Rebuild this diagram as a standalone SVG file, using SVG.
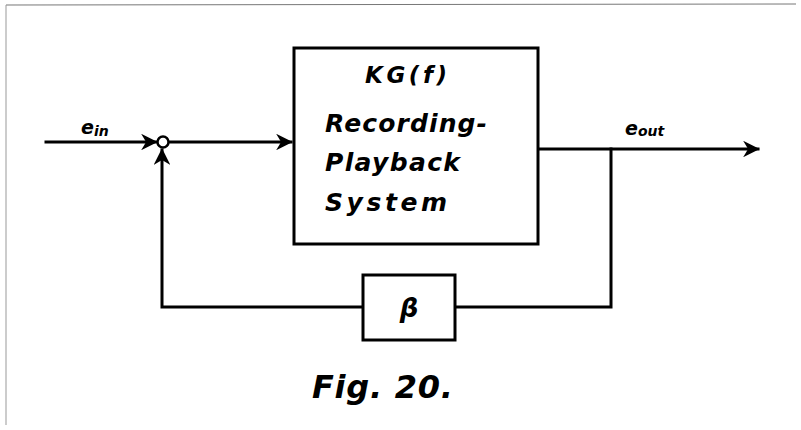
<svg xmlns="http://www.w3.org/2000/svg" width="801" height="430" viewBox="0 0 801 430">
<style>
.ln{stroke:#000;stroke-width:3;fill:none;stroke-linecap:square}
.bx{stroke:#000;stroke-width:3;fill:#fff}
.t{font-family:"DejaVu Sans","Liberation Sans",sans-serif;font-style:italic;font-weight:bold;fill:#000}
</style>
<defs>
<marker id="ah" viewBox="0 0 10 10" refX="9" refY="5" markerWidth="5.5" markerHeight="5.5" orient="auto" markerUnits="strokeWidth">
<path d="M0,0 L10,5 L0,10 L3,5 z" fill="#000"/>
</marker>
</defs>
<rect width="801" height="430" fill="#fff"/>
<g id="border">
<path d="M6,5 L796,4" stroke="#777" stroke-width="1" fill="none"/>
<path d="M6,5 L6,425" stroke="#999" stroke-width="1" fill="none"/>
</g>
<g id="connectors">
<path class="ln" d="M46,142 L156,142" marker-end="url(#ah)"/>
<path class="ln" d="M169,142 L291,142" marker-end="url(#ah)"/>
<path class="ln" d="M538,149 L758,149" marker-end="url(#ah)"/>
<path class="ln" d="M611,149 L611,307 L455,307"/>
<path class="ln" d="M363,307 L162,307 L162,150" marker-end="url(#ah)"/>
</g>
<g id="sum">
<circle cx="163" cy="142" r="5.5" fill="#fff" stroke="#000" stroke-width="2.5"/>
</g>
<g id="system">
<rect class="bx" x="294" y="48" width="244" height="196"/>
<text class="t" x="365" y="83" font-size="23" textLength="82" lengthAdjust="spacing">KG(f)</text>
<text class="t" x="325" y="132" font-size="25" textLength="162" lengthAdjust="spacing">Recording-</text>
<text class="t" x="325" y="171" font-size="25" textLength="135" lengthAdjust="spacing">Playback</text>
<text class="t" x="325" y="211" font-size="25" textLength="122" lengthAdjust="spacing">System</text>
</g>
<g id="beta">
<rect class="bx" x="363" y="275" width="92" height="65"/>
<text class="t" x="409" y="317" font-size="26" text-anchor="middle">β</text>
</g>
<g id="labels">
<text class="t" x="81" y="134" font-size="19">e<tspan font-size="14" dy="2">in</tspan></text>
<text class="t" x="625" y="135" font-size="19">e<tspan font-size="14" dy="1">out</tspan></text>
<text class="t" x="312" y="398" font-size="32" textLength="141" lengthAdjust="spacing">Fig. 20.</text>
</g>
</svg>
